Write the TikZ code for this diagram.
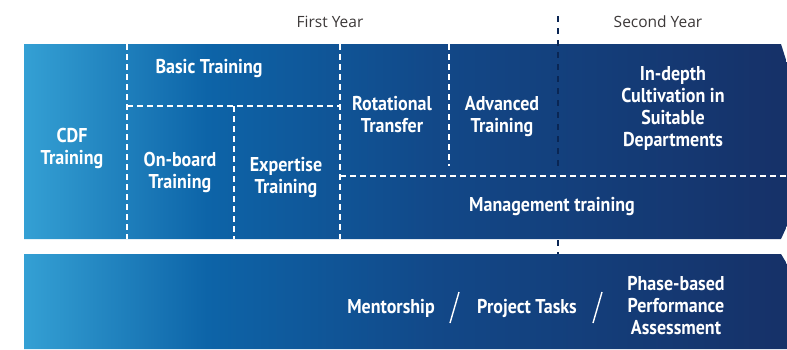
\documentclass[tikz,border=0pt]{standalone}
\usepackage{fontspec}
\setmainfont{Open Sans}
\newfontfamily\bandfont[FakeStretch=0.9]{PT Sans}
\definecolor{bandlight}{RGB}{52,160,212}
\definecolor{bandmid}{RGB}{13,100,168}
\definecolor{banddeep}{RGB}{18,72,136}
\definecolor{banddark}{RGB}{22,49,104}
\definecolor{yeargray}{RGB}{60,56,56}
\definecolor{yearline}{RGB}{10,38,84}
\pgfdeclarehorizontalshading{bandshade}{100bp}{%
  color(0bp)=(bandlight); color(25bp)=(bandlight);
  color(37bp)=(bandmid); color(52bp)=(banddeep);
  color(75bp)=(banddark); color(100bp)=(banddark)}
\begin{document}
\begin{tikzpicture}[
    x={(1pt,0pt)},
    y={(0pt,-1pt)},
    line cap=butt,
    band/.style={shading=bandshade},
    cut/.style={white,line width=2pt,dash pattern=on 6pt off 4pt},
    yearcut/.style={yearline,line width=2pt,dash pattern=on 6pt off 6pt},
    lbl/.style={text=white,font=\bandfont\bfseries\fontsize{20}{22}\selectfont,
                align=center,inner sep=0pt,yshift=-2pt},
    yearlbl/.style={text=yeargray,font=\fontsize{15.5}{18}\selectfont,inner sep=0pt}
]
\useasboundingbox (0,0) rectangle (787,349);

% -------------------------------------------------
% Bands
% -------------------------------------------------

\shade[band] (24,44) -- (781,44) -- (787,63) -- (787,226) -- (781,239)
    -- (24,239) -- cycle;
\shade[band] (24,254) -- (781,254) -- (787,264) -- (787,349)
    -- (24,349) -- cycle;

% -------------------------------------------------
% Dividers
% -------------------------------------------------

\draw[cut] (127,44) -- (127,239);
\draw[cut] (340,44) -- (340,239);
\draw[cut] (127,106) -- (340,106);
\draw[cut] (234,106) -- (234,239);
\draw[cut] (449,44) -- (449,166);
\draw[cut] (340,176) -- (787,176);

% year boundary
\draw[yearcut] (558,16) -- (558,172);
\draw[yearcut] (558,240) -- (558,254);

% -------------------------------------------------
% Year labels
% -------------------------------------------------

\node[yearlbl] (first)  at (330,22) {First Year};
\node[yearlbl] (second) at (658,22) {Second Year};

% -------------------------------------------------
% Training stages
% -------------------------------------------------

\node[lbl] (cdf)      at (72,146)  {CDF\\Training};
\node[lbl] (basic)    at (209,67)  {Basic Training};
\node[lbl] (onboard)  at (180,170) {On-board\\Training};
\node[lbl] (expert)   at (286,176) {Expertise\\Training};
\node[lbl] (rotation) at (392,113) {Rotational\\Transfer};
\node[lbl] (advanced) at (502,115) {Advanced\\Training};
\node[lbl] (indepth)  at (673,106) {In-depth\\Cultivation in\\Suitable\\Departments};
\node[lbl] (manage)   at (552,205) {Management training};

% -------------------------------------------------
% Support band
% -------------------------------------------------

\node[lbl] (mentor)  at (391,306) {Mentorship};
\node[lbl] (project) at (527,306) {Project Tasks};
\node[lbl] (assess)  at (676,304) {Phase-based\\Performance\\Assessment};

\draw[white,line width=1.4pt] (450,323) -- (459,292);
\draw[white,line width=1.4pt] (593,323) -- (602,292);

\end{tikzpicture}
\end{document}
